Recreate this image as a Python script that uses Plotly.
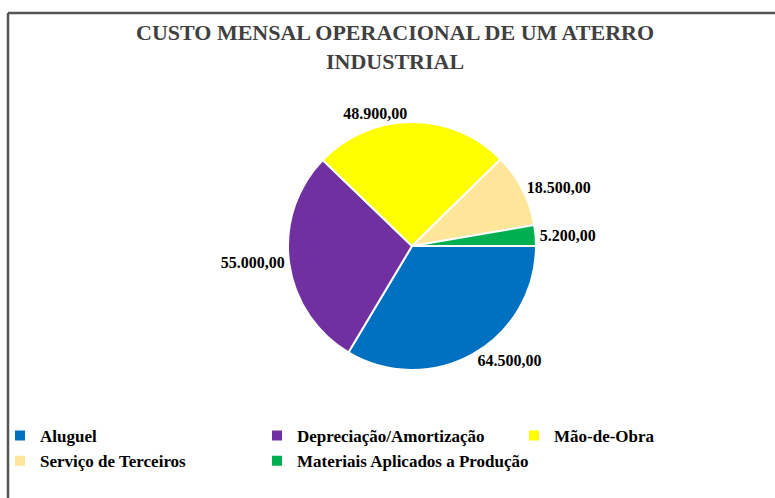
import plotly.graph_objects as go

categories = ["Aluguel", "Depreciação/Amortização", "Mão-de-Obra",
              "Serviço de Terceiros", "Materiais Aplicados a Produção"]
values = [64500, 55000, 48900, 18500, 5200]
colors = ["#0070C0", "#7030A0", "#FFFF00", "#FFE699", "#00B050"]
title_text = "CUSTO MENSAL OPERACIONAL DE UM ATERRO<br>INDUSTRIAL"

W, H = 775, 498
cx, cy, r = 412, 246, 124

fig = go.Figure()
fig.add_trace(go.Pie(
    labels=categories,
    values=values,
    sort=False,
    direction="clockwise",
    rotation=90,
    marker=dict(colors=colors, line=dict(color="white", width=2)),
    textposition="outside",
    texttemplate="%{value:,.2f}",
    textfont=dict(family="Liberation Serif", size=16, color="#000000", weight="bold"),
    hoverinfo="label+value",
    domain=dict(x=[(cx - r) / W, (cx + r) / W], y=[1 - (cy + r) / H, 1 - (cy - r) / H]),
    showlegend=True,
))

fig.update_layout(
    width=W, height=H,
    margin=dict(l=0, r=0, t=0, b=0),
    separators=",.",
    paper_bgcolor="white",
    plot_bgcolor="white",
    font=dict(family="Liberation Serif", color="#000000"),
    annotations=[dict(
        text=title_text, showarrow=False,
        xref="paper", yref="paper",
        x=395 / W, xanchor="center",
        y=1 - 47 / H, yanchor="middle",
        align="center",
        font=dict(family="Liberation Serif", size=22, color="#404040", weight="bold"),
    )],
    legend=dict(
        orientation="h",
        x=0, xanchor="left",
        y=1 - 418 / H, yanchor="top",
        bgcolor="rgba(0,0,0,0)",
        entrywidth=212, entrywidthmode="pixels",
        font=dict(family="Liberation Serif", size=17, color="#000000", weight="bold"),
        itemsizing="constant",
    ),
    shapes=[
        dict(type="line", xref="paper", yref="paper",
             x0=8 / W, x1=1, y0=1 - 13 / H, y1=1 - 13 / H,
             line=dict(color="#555555", width=2.5)),
        dict(type="line", xref="paper", yref="paper",
             x0=8 / W, x1=8 / W, y0=0, y1=1 - 13 / H,
             line=dict(color="#555555", width=2.5)),
    ],
)

fig.write_html("out.html")
